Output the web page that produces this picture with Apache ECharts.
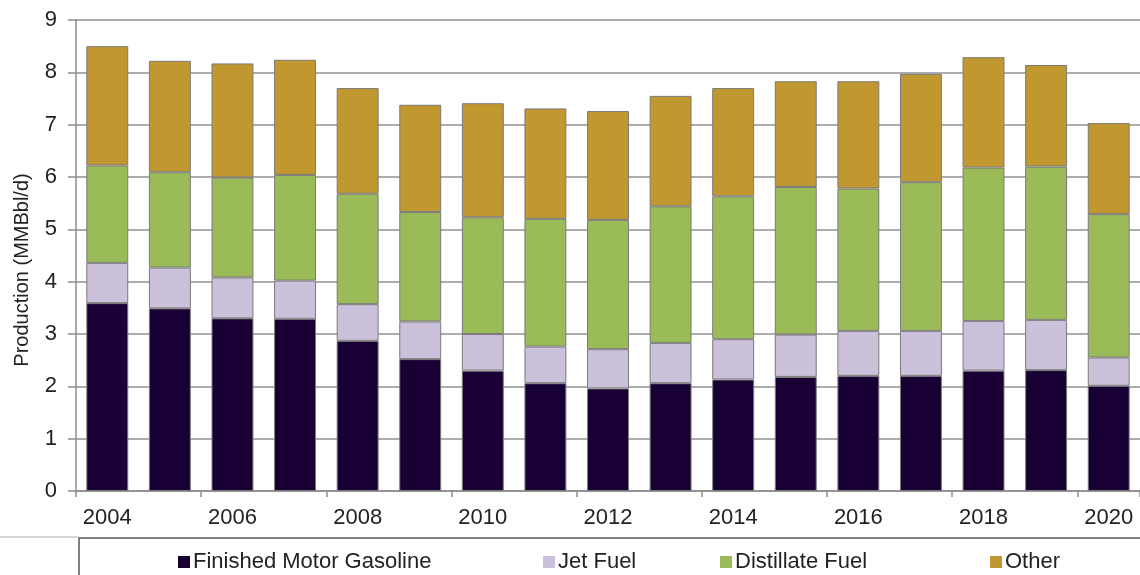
<!DOCTYPE html>
<html>
<head>
<meta charset="utf-8">
<script src="https://cdn.jsdelivr.net/npm/echarts@6/dist/echarts.min.js"></script>
<style>
  html, body { margin: 0; padding: 0; background: #fff; }
  #chart { width: 1140px; height: 575px; }
</style>
</head>
<body>
<div id="chart"></div>
<script>
// 年份
const years = ['2004', '2005', '2006', '2007', '2008', '2009', '2010', '2011', '2012',
    '2013', '2014', '2015', '2016', '2017', '2018', '2019', '2020']
// 各产品产量 (MMBbl/d)
const gasoline   = [3.59, 3.49, 3.30, 3.29, 2.87, 2.52, 2.30, 2.06, 1.96, 2.06, 2.13, 2.18, 2.20, 2.20, 2.30, 2.31, 2.01]
const jetFuel    = [0.77, 0.78, 0.78, 0.73, 0.70, 0.72, 0.70, 0.70, 0.75, 0.77, 0.77, 0.81, 0.86, 0.86, 0.95, 0.96, 0.54]
const distillate = [1.86, 1.82, 1.91, 2.02, 2.11, 2.09, 2.23, 2.44, 2.47, 2.61, 2.73, 2.82, 2.72, 2.84, 2.93, 2.93, 2.74]
const other      = [2.28, 2.13, 2.18, 2.20, 2.02, 2.05, 2.18, 2.11, 2.08, 2.11, 2.07, 2.02, 2.05, 2.07, 2.11, 1.94, 1.74]
const yTicks = [0, 9, 1]   // min, max, interval

const seriesDefs = [
    { name: 'Finished Motor Gasoline', color: '#180035', data: gasoline, legendLeft: 173 },
    { name: 'Jet Fuel', color: '#ccc1da', data: jetFuel, legendLeft: 538 },
    { name: 'Distillate Fuel', color: '#9bbb59', data: distillate, legendLeft: 715 },
    { name: 'Other', color: '#c0982f', data: other, legendLeft: 985 }
]

const font = 'Liberation Sans, Arial, sans-serif'

let series = []
let legends = []
for (let i = 0; i < seriesDefs.length; i++) {
    const item = seriesDefs[i]
    series.push({
        name: item.name,
        type: 'bar',
        stack: 'total',
        barCategoryGap: '33%',
        itemStyle: {
            color: item.color,
            borderColor: '#7a7a7a',
            borderWidth: 1
        },
        data: item.data
    })
    legends.push({
        data: [item.name],
        left: item.legendLeft,
        top: 546,
        itemWidth: 12,
        itemHeight: 12,
        itemGap: 0,
        icon: 'rect',
        itemStyle: { borderWidth: 0 },
        textStyle: { fontFamily: font, fontSize: 22, color: '#222', padding: [0, 0, 0, -2] }
    })
}

const option = {
    animation: false,
    backgroundColor: '#fff',
    grid: { left: 76, top: 20, width: 1071, bottom: 84 },
    legend: legends,
    xAxis: {
        type: 'category',
        data: years,
        axisLine: { lineStyle: { color: '#8c8c8c', width: 1.5 } },
        axisTick: { show: true, length: 6, lineStyle: { color: '#8c8c8c', width: 1.5 } },
        axisLabel: { interval: 1, margin: 16, fontFamily: font, fontSize: 22, color: '#222' }
    },
    yAxis: {
        type: 'value',
        min: yTicks[0],
        max: yTicks[1],
        interval: yTicks[2],
        axisLine: { show: true, lineStyle: { color: '#8c8c8c', width: 1.5 } },
        axisTick: { show: true, length: 8, lineStyle: { color: '#8c8c8c', width: 1.5 } },
        axisLabel: { margin: 19, fontFamily: font, fontSize: 22, color: '#222' },
        splitLine: { show: true, lineStyle: { color: '#adadad', width: 2 } }
    },
    graphic: [
        {
            type: 'text',
            x: 22, y: 270,
            rotation: Math.PI / 2,
            style: {
                text: 'Production (MMBbl/d)',
                fontFamily: font, fontSize: 20, fill: '#222',
                align: 'center', verticalAlign: 'middle'
            }
        },
        // 图例外框
        {
            type: 'rect',
            shape: { x: 79, y: 538, width: 1100, height: 60 },
            style: { fill: 'none', stroke: '#555', lineWidth: 1.5 }
        },
        {
            type: 'line',
            shape: { x1: 0, y1: 537, x2: 79, y2: 537 },
            style: { stroke: '#aaa', lineWidth: 1 }
        }
    ],
    series: series
}

let chart = echarts.init(document.getElementById('chart'))
chart.setOption(option)
</script>
</body>
</html>
